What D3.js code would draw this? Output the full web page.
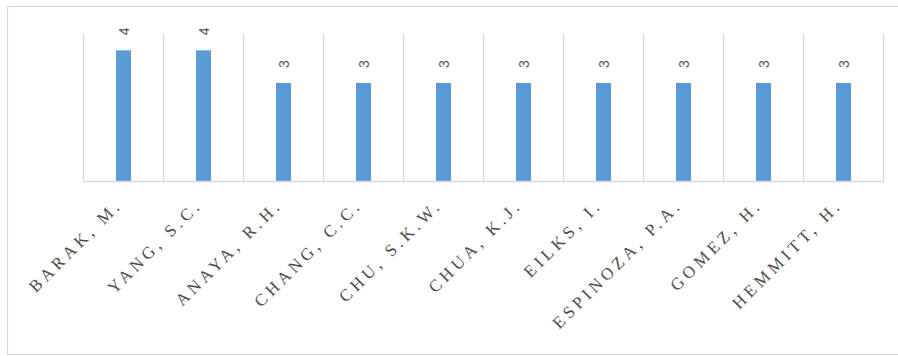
<!DOCTYPE html>
<html>
<head>
<meta charset="utf-8">
<script src="https://cdn.jsdelivr.net/npm/d3@7"></script>
<style>
  html, body { margin: 0; padding: 0; background: #fff; }
  svg { display: block; }
</style>
</head>
<body>
<script>
// Authors and their publication counts
const authors = ["BARAK, M.", "YANG, S.C.", "ANAYA, R.H.", "CHANG, C.C.", "CHU, S.K.W.",
                 "CHUA, K.J.", "EILKS, I.", "ESPINOZA, P.A.", "GOMEZ, H.", "HEMMITT, H."];
const counts = [4, 4, 3, 3, 3, 3, 3, 3, 3, 3];
const yDomain = [0, 4.5];

const W = 898, H = 356;
const plot = { left: 83, right: 883, top: 34, bottom: 181 };

const svg = d3.select("body").append("svg")
  .attr("width", W).attr("height", H);

// Chart frame
svg.append("rect")
  .attr("x", 7.5).attr("y", 6.5)
  .attr("width", 900).attr("height", 348)
  .attr("fill", "#fff")
  .attr("stroke", "#d9d9d9").attr("stroke-width", 1.2);

const x = d3.scaleBand().domain(authors).range([plot.left, plot.right]).paddingInner(0).paddingOuter(0);
const y = d3.scaleLinear().domain(yDomain).range([plot.bottom, plot.top]);

// Vertical gridlines at category boundaries
const bounds = authors.map(a => x(a)).concat([x(authors[authors.length - 1]) + x.bandwidth()]);
svg.append("g").selectAll("line").data(bounds).join("line")
  .attr("x1", d => Math.round(d) + 0.5).attr("x2", d => Math.round(d) + 0.5)
  .attr("y1", plot.top).attr("y2", plot.bottom)
  .attr("stroke", "#d9d9d9").attr("stroke-width", 1.3);

// Bars
const barW = 15;
svg.append("g").selectAll("rect").data(authors).join("rect")
  .attr("x", d => x(d) + x.bandwidth() / 2 - barW / 2 + 0.5)
  .attr("y", (d, i) => y(counts[i]))
  .attr("width", barW)
  .attr("height", (d, i) => y(0) - y(counts[i]))
  .attr("fill", "#5b9bd5");

// Category axis line
svg.append("line")
  .attr("x1", plot.left).attr("x2", plot.right + 1)
  .attr("y1", plot.bottom + 0.5).attr("y2", plot.bottom + 0.5)
  .attr("stroke", "#d9d9d9").attr("stroke-width", 1.3);

// Value labels, rotated
svg.append("g").selectAll("text").data(authors).join("text")
  .attr("transform", (d, i) => `translate(${x(d) + x.bandwidth() / 2 + 5.5},${y(counts[i]) - 15}) rotate(-90)`)
  .attr("text-anchor", "start")
  .attr("font-family", "'Liberation Sans', Arial, sans-serif")
  .attr("font-size", 14)
  .attr("fill", "#595959")
  .text((d, i) => counts[i]);

// Category labels at -45 degrees
svg.append("g").selectAll("text").data(authors).join("text")
  .attr("transform", d => `translate(${x(d) + x.bandwidth() / 2},${plot.bottom + 25}) rotate(-45)`)
  .attr("text-anchor", "end")
  .attr("font-family", "'Liberation Serif', 'Times New Roman', serif")
  .attr("font-size", 17)
  .attr("letter-spacing", "4px")
  .attr("fill", "#4d4d4d")
  .text(d => d);
</script>
</body>
</html>
